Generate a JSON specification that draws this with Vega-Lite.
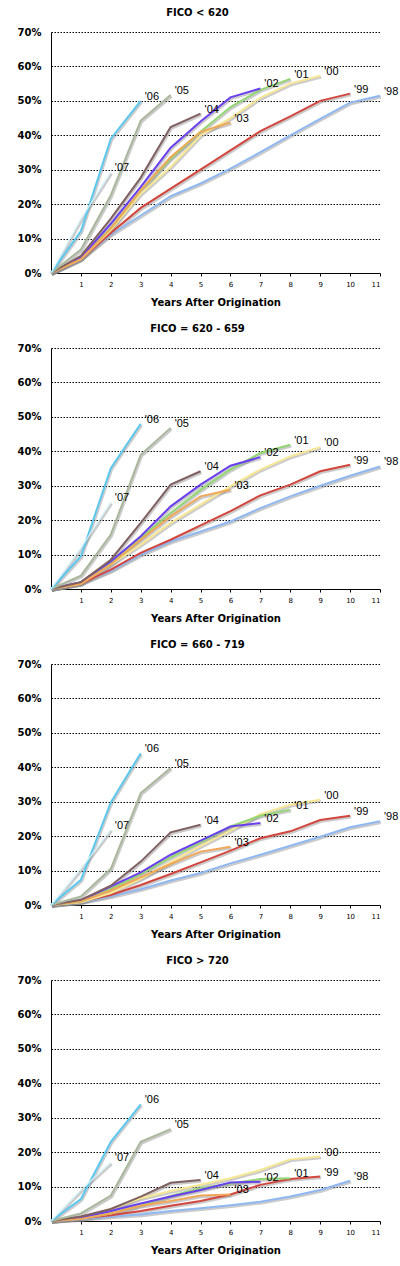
{
  "$schema": "https://vega.github.io/schema/vega-lite/v6.json",
  "padding": {"left": 17, "top": 8, "right": 0, "bottom": 0},
  "background": "white",
  "spacing": 17,
  "config": {
    "view": {"stroke": null},
    "title": {"font": "DejaVu Sans", "fontSize": 10, "fontWeight": "bold", "color": "#000000", "offset": 9, "anchor": "middle", "dx": -18},
    "axis": {"domainColor": "#000000", "domainWidth": 1, "labelColor": "#000000", "titleColor": "#000000"}
  },
  "datasets": {
    "rates": [
      {"fico": "FICO < 620", "vintage": "'98", "year": 0, "rate": 0},
      {"fico": "FICO < 620", "vintage": "'98", "year": 1, "rate": 4.2},
      {"fico": "FICO < 620", "vintage": "'98", "year": 2, "rate": 11.2},
      {"fico": "FICO < 620", "vintage": "'98", "year": 3, "rate": 16.7},
      {"fico": "FICO < 620", "vintage": "'98", "year": 4, "rate": 22.3},
      {"fico": "FICO < 620", "vintage": "'98", "year": 5, "rate": 26},
      {"fico": "FICO < 620", "vintage": "'98", "year": 6, "rate": 30.3},
      {"fico": "FICO < 620", "vintage": "'98", "year": 7, "rate": 35.1},
      {"fico": "FICO < 620", "vintage": "'98", "year": 8, "rate": 40},
      {"fico": "FICO < 620", "vintage": "'98", "year": 9, "rate": 44.8},
      {"fico": "FICO < 620", "vintage": "'98", "year": 10, "rate": 49.5},
      {"fico": "FICO < 620", "vintage": "'98", "year": 11, "rate": 51.5},
      {"fico": "FICO < 620", "vintage": "'99", "year": 0, "rate": 0},
      {"fico": "FICO < 620", "vintage": "'99", "year": 1, "rate": 4},
      {"fico": "FICO < 620", "vintage": "'99", "year": 2, "rate": 11.6},
      {"fico": "FICO < 620", "vintage": "'99", "year": 3, "rate": 18.9},
      {"fico": "FICO < 620", "vintage": "'99", "year": 4, "rate": 24.5},
      {"fico": "FICO < 620", "vintage": "'99", "year": 5, "rate": 30},
      {"fico": "FICO < 620", "vintage": "'99", "year": 6, "rate": 35.6},
      {"fico": "FICO < 620", "vintage": "'99", "year": 7, "rate": 41.2},
      {"fico": "FICO < 620", "vintage": "'99", "year": 8, "rate": 45.5},
      {"fico": "FICO < 620", "vintage": "'99", "year": 9, "rate": 50},
      {"fico": "FICO < 620", "vintage": "'99", "year": 10, "rate": 52.1},
      {"fico": "FICO < 620", "vintage": "'00", "year": 0, "rate": 0},
      {"fico": "FICO < 620", "vintage": "'00", "year": 1, "rate": 4},
      {"fico": "FICO < 620", "vintage": "'00", "year": 2, "rate": 12.5},
      {"fico": "FICO < 620", "vintage": "'00", "year": 3, "rate": 23},
      {"fico": "FICO < 620", "vintage": "'00", "year": 4, "rate": 30.8},
      {"fico": "FICO < 620", "vintage": "'00", "year": 5, "rate": 40},
      {"fico": "FICO < 620", "vintage": "'00", "year": 6, "rate": 45},
      {"fico": "FICO < 620", "vintage": "'00", "year": 7, "rate": 50.9},
      {"fico": "FICO < 620", "vintage": "'00", "year": 8, "rate": 55},
      {"fico": "FICO < 620", "vintage": "'00", "year": 9, "rate": 57.3},
      {"fico": "FICO < 620", "vintage": "'01", "year": 0, "rate": 0},
      {"fico": "FICO < 620", "vintage": "'01", "year": 1, "rate": 4.5},
      {"fico": "FICO < 620", "vintage": "'01", "year": 2, "rate": 13},
      {"fico": "FICO < 620", "vintage": "'01", "year": 3, "rate": 24},
      {"fico": "FICO < 620", "vintage": "'01", "year": 4, "rate": 33.2},
      {"fico": "FICO < 620", "vintage": "'01", "year": 5, "rate": 41},
      {"fico": "FICO < 620", "vintage": "'01", "year": 6, "rate": 48.2},
      {"fico": "FICO < 620", "vintage": "'01", "year": 7, "rate": 53.2},
      {"fico": "FICO < 620", "vintage": "'01", "year": 8, "rate": 56.4},
      {"fico": "FICO < 620", "vintage": "'02", "year": 0, "rate": 0},
      {"fico": "FICO < 620", "vintage": "'02", "year": 1, "rate": 4.5},
      {"fico": "FICO < 620", "vintage": "'02", "year": 2, "rate": 14.3},
      {"fico": "FICO < 620", "vintage": "'02", "year": 3, "rate": 25},
      {"fico": "FICO < 620", "vintage": "'02", "year": 4, "rate": 36.4},
      {"fico": "FICO < 620", "vintage": "'02", "year": 5, "rate": 44},
      {"fico": "FICO < 620", "vintage": "'02", "year": 6, "rate": 51},
      {"fico": "FICO < 620", "vintage": "'02", "year": 7, "rate": 53.6},
      {"fico": "FICO < 620", "vintage": "'03", "year": 0, "rate": 0},
      {"fico": "FICO < 620", "vintage": "'03", "year": 1, "rate": 4},
      {"fico": "FICO < 620", "vintage": "'03", "year": 2, "rate": 12.9},
      {"fico": "FICO < 620", "vintage": "'03", "year": 3, "rate": 24},
      {"fico": "FICO < 620", "vintage": "'03", "year": 4, "rate": 33.7},
      {"fico": "FICO < 620", "vintage": "'03", "year": 5, "rate": 41},
      {"fico": "FICO < 620", "vintage": "'03", "year": 6, "rate": 43.7},
      {"fico": "FICO < 620", "vintage": "'04", "year": 0, "rate": 0},
      {"fico": "FICO < 620", "vintage": "'04", "year": 1, "rate": 5},
      {"fico": "FICO < 620", "vintage": "'04", "year": 2, "rate": 15.8},
      {"fico": "FICO < 620", "vintage": "'04", "year": 3, "rate": 27.7},
      {"fico": "FICO < 620", "vintage": "'04", "year": 4, "rate": 42.4},
      {"fico": "FICO < 620", "vintage": "'04", "year": 5, "rate": 46.3},
      {"fico": "FICO < 620", "vintage": "'05", "year": 0, "rate": 0},
      {"fico": "FICO < 620", "vintage": "'05", "year": 1, "rate": 6.8},
      {"fico": "FICO < 620", "vintage": "'05", "year": 2, "rate": 22.6},
      {"fico": "FICO < 620", "vintage": "'05", "year": 3, "rate": 44.3},
      {"fico": "FICO < 620", "vintage": "'05", "year": 4, "rate": 51.7},
      {"fico": "FICO < 620", "vintage": "'06", "year": 0, "rate": 0},
      {"fico": "FICO < 620", "vintage": "'06", "year": 1, "rate": 12.2},
      {"fico": "FICO < 620", "vintage": "'06", "year": 2, "rate": 39},
      {"fico": "FICO < 620", "vintage": "'06", "year": 3, "rate": 50},
      {"fico": "FICO < 620", "vintage": "'07", "year": 0, "rate": 0},
      {"fico": "FICO < 620", "vintage": "'07", "year": 1, "rate": 15.7},
      {"fico": "FICO < 620", "vintage": "'07", "year": 2, "rate": 29.3},

      {"fico": "FICO = 620 - 659", "vintage": "'98", "year": 0, "rate": 0},
      {"fico": "FICO = 620 - 659", "vintage": "'98", "year": 1, "rate": 1.7},
      {"fico": "FICO = 620 - 659", "vintage": "'98", "year": 2, "rate": 5.3},
      {"fico": "FICO = 620 - 659", "vintage": "'98", "year": 3, "rate": 10},
      {"fico": "FICO = 620 - 659", "vintage": "'98", "year": 4, "rate": 13.8},
      {"fico": "FICO = 620 - 659", "vintage": "'98", "year": 5, "rate": 16.7},
      {"fico": "FICO = 620 - 659", "vintage": "'98", "year": 6, "rate": 19.6},
      {"fico": "FICO = 620 - 659", "vintage": "'98", "year": 7, "rate": 23.5},
      {"fico": "FICO = 620 - 659", "vintage": "'98", "year": 8, "rate": 26.9},
      {"fico": "FICO = 620 - 659", "vintage": "'98", "year": 9, "rate": 30},
      {"fico": "FICO = 620 - 659", "vintage": "'98", "year": 10, "rate": 32.9},
      {"fico": "FICO = 620 - 659", "vintage": "'98", "year": 11, "rate": 35.6},
      {"fico": "FICO = 620 - 659", "vintage": "'99", "year": 0, "rate": 0},
      {"fico": "FICO = 620 - 659", "vintage": "'99", "year": 1, "rate": 1.5},
      {"fico": "FICO = 620 - 659", "vintage": "'99", "year": 2, "rate": 5.6},
      {"fico": "FICO = 620 - 659", "vintage": "'99", "year": 3, "rate": 10.5},
      {"fico": "FICO = 620 - 659", "vintage": "'99", "year": 4, "rate": 14.3},
      {"fico": "FICO = 620 - 659", "vintage": "'99", "year": 5, "rate": 18.5},
      {"fico": "FICO = 620 - 659", "vintage": "'99", "year": 6, "rate": 22.6},
      {"fico": "FICO = 620 - 659", "vintage": "'99", "year": 7, "rate": 27.2},
      {"fico": "FICO = 620 - 659", "vintage": "'99", "year": 8, "rate": 30.3},
      {"fico": "FICO = 620 - 659", "vintage": "'99", "year": 9, "rate": 34.2},
      {"fico": "FICO = 620 - 659", "vintage": "'99", "year": 10, "rate": 36.1},
      {"fico": "FICO = 620 - 659", "vintage": "'00", "year": 0, "rate": 0},
      {"fico": "FICO = 620 - 659", "vintage": "'00", "year": 1, "rate": 1.5},
      {"fico": "FICO = 620 - 659", "vintage": "'00", "year": 2, "rate": 7.1},
      {"fico": "FICO = 620 - 659", "vintage": "'00", "year": 3, "rate": 12.9},
      {"fico": "FICO = 620 - 659", "vintage": "'00", "year": 4, "rate": 19.2},
      {"fico": "FICO = 620 - 659", "vintage": "'00", "year": 5, "rate": 24.5},
      {"fico": "FICO = 620 - 659", "vintage": "'00", "year": 6, "rate": 29.8},
      {"fico": "FICO = 620 - 659", "vintage": "'00", "year": 7, "rate": 34.7},
      {"fico": "FICO = 620 - 659", "vintage": "'00", "year": 8, "rate": 38.5},
      {"fico": "FICO = 620 - 659", "vintage": "'00", "year": 9, "rate": 41.2},
      {"fico": "FICO = 620 - 659", "vintage": "'01", "year": 0, "rate": 0},
      {"fico": "FICO = 620 - 659", "vintage": "'01", "year": 1, "rate": 2},
      {"fico": "FICO = 620 - 659", "vintage": "'01", "year": 2, "rate": 7.6},
      {"fico": "FICO = 620 - 659", "vintage": "'01", "year": 3, "rate": 14.8},
      {"fico": "FICO = 620 - 659", "vintage": "'01", "year": 4, "rate": 22.1},
      {"fico": "FICO = 620 - 659", "vintage": "'01", "year": 5, "rate": 28.8},
      {"fico": "FICO = 620 - 659", "vintage": "'01", "year": 6, "rate": 34.7},
      {"fico": "FICO = 620 - 659", "vintage": "'01", "year": 7, "rate": 39.5},
      {"fico": "FICO = 620 - 659", "vintage": "'01", "year": 8, "rate": 41.9},
      {"fico": "FICO = 620 - 659", "vintage": "'02", "year": 0, "rate": 0},
      {"fico": "FICO = 620 - 659", "vintage": "'02", "year": 1, "rate": 2},
      {"fico": "FICO = 620 - 659", "vintage": "'02", "year": 2, "rate": 8},
      {"fico": "FICO = 620 - 659", "vintage": "'02", "year": 3, "rate": 15.3},
      {"fico": "FICO = 620 - 659", "vintage": "'02", "year": 4, "rate": 24},
      {"fico": "FICO = 620 - 659", "vintage": "'02", "year": 5, "rate": 30.3},
      {"fico": "FICO = 620 - 659", "vintage": "'02", "year": 6, "rate": 35.8},
      {"fico": "FICO = 620 - 659", "vintage": "'02", "year": 7, "rate": 38.3},
      {"fico": "FICO = 620 - 659", "vintage": "'03", "year": 0, "rate": 0},
      {"fico": "FICO = 620 - 659", "vintage": "'03", "year": 1, "rate": 1.5},
      {"fico": "FICO = 620 - 659", "vintage": "'03", "year": 2, "rate": 7.1},
      {"fico": "FICO = 620 - 659", "vintage": "'03", "year": 3, "rate": 14.3},
      {"fico": "FICO = 620 - 659", "vintage": "'03", "year": 4, "rate": 21.1},
      {"fico": "FICO = 620 - 659", "vintage": "'03", "year": 5, "rate": 26.9},
      {"fico": "FICO = 620 - 659", "vintage": "'03", "year": 6, "rate": 28.8},
      {"fico": "FICO = 620 - 659", "vintage": "'04", "year": 0, "rate": 0},
      {"fico": "FICO = 620 - 659", "vintage": "'04", "year": 1, "rate": 2},
      {"fico": "FICO = 620 - 659", "vintage": "'04", "year": 2, "rate": 8.5},
      {"fico": "FICO = 620 - 659", "vintage": "'04", "year": 3, "rate": 19.2},
      {"fico": "FICO = 620 - 659", "vintage": "'04", "year": 4, "rate": 30.3},
      {"fico": "FICO = 620 - 659", "vintage": "'04", "year": 5, "rate": 34.2},
      {"fico": "FICO = 620 - 659", "vintage": "'05", "year": 0, "rate": 0},
      {"fico": "FICO = 620 - 659", "vintage": "'05", "year": 1, "rate": 3.9},
      {"fico": "FICO = 620 - 659", "vintage": "'05", "year": 2, "rate": 15.8},
      {"fico": "FICO = 620 - 659", "vintage": "'05", "year": 3, "rate": 39},
      {"fico": "FICO = 620 - 659", "vintage": "'05", "year": 4, "rate": 46.8},
      {"fico": "FICO = 620 - 659", "vintage": "'06", "year": 0, "rate": 0},
      {"fico": "FICO = 620 - 659", "vintage": "'06", "year": 1, "rate": 9.5},
      {"fico": "FICO = 620 - 659", "vintage": "'06", "year": 2, "rate": 35.1},
      {"fico": "FICO = 620 - 659", "vintage": "'06", "year": 3, "rate": 48},
      {"fico": "FICO = 620 - 659", "vintage": "'07", "year": 0, "rate": 0},
      {"fico": "FICO = 620 - 659", "vintage": "'07", "year": 1, "rate": 11.9},
      {"fico": "FICO = 620 - 659", "vintage": "'07", "year": 2, "rate": 25.2},

      {"fico": "FICO = 660 - 719", "vintage": "'98", "year": 0, "rate": 0},
      {"fico": "FICO = 660 - 719", "vintage": "'98", "year": 1, "rate": 0.8},
      {"fico": "FICO = 660 - 719", "vintage": "'98", "year": 2, "rate": 2.5},
      {"fico": "FICO = 660 - 719", "vintage": "'98", "year": 3, "rate": 4.6},
      {"fico": "FICO = 660 - 719", "vintage": "'98", "year": 4, "rate": 7.1},
      {"fico": "FICO = 660 - 719", "vintage": "'98", "year": 5, "rate": 9.3},
      {"fico": "FICO = 660 - 719", "vintage": "'98", "year": 6, "rate": 12.1},
      {"fico": "FICO = 660 - 719", "vintage": "'98", "year": 7, "rate": 14.6},
      {"fico": "FICO = 660 - 719", "vintage": "'98", "year": 8, "rate": 17.2},
      {"fico": "FICO = 660 - 719", "vintage": "'98", "year": 9, "rate": 19.8},
      {"fico": "FICO = 660 - 719", "vintage": "'98", "year": 10, "rate": 22.6},
      {"fico": "FICO = 660 - 719", "vintage": "'98", "year": 11, "rate": 24.3},
      {"fico": "FICO = 660 - 719", "vintage": "'99", "year": 0, "rate": 0},
      {"fico": "FICO = 660 - 719", "vintage": "'99", "year": 1, "rate": 1},
      {"fico": "FICO = 660 - 719", "vintage": "'99", "year": 2, "rate": 2.9},
      {"fico": "FICO = 660 - 719", "vintage": "'99", "year": 3, "rate": 5.8},
      {"fico": "FICO = 660 - 719", "vintage": "'99", "year": 4, "rate": 9},
      {"fico": "FICO = 660 - 719", "vintage": "'99", "year": 5, "rate": 12.4},
      {"fico": "FICO = 660 - 719", "vintage": "'99", "year": 6, "rate": 15.8},
      {"fico": "FICO = 660 - 719", "vintage": "'99", "year": 7, "rate": 19.4},
      {"fico": "FICO = 660 - 719", "vintage": "'99", "year": 8, "rate": 21.4},
      {"fico": "FICO = 660 - 719", "vintage": "'99", "year": 9, "rate": 24.7},
      {"fico": "FICO = 660 - 719", "vintage": "'99", "year": 10, "rate": 25.9},
      {"fico": "FICO = 660 - 719", "vintage": "'00", "year": 0, "rate": 0},
      {"fico": "FICO = 660 - 719", "vintage": "'00", "year": 1, "rate": 0.8},
      {"fico": "FICO = 660 - 719", "vintage": "'00", "year": 2, "rate": 3.5},
      {"fico": "FICO = 660 - 719", "vintage": "'00", "year": 3, "rate": 7.6},
      {"fico": "FICO = 660 - 719", "vintage": "'00", "year": 4, "rate": 12.4},
      {"fico": "FICO = 660 - 719", "vintage": "'00", "year": 5, "rate": 17.2},
      {"fico": "FICO = 660 - 719", "vintage": "'00", "year": 6, "rate": 21.6},
      {"fico": "FICO = 660 - 719", "vintage": "'00", "year": 7, "rate": 26.4},
      {"fico": "FICO = 660 - 719", "vintage": "'00", "year": 8, "rate": 29.1},
      {"fico": "FICO = 660 - 719", "vintage": "'00", "year": 9, "rate": 30.6},
      {"fico": "FICO = 660 - 719", "vintage": "'01", "year": 0, "rate": 0},
      {"fico": "FICO = 660 - 719", "vintage": "'01", "year": 1, "rate": 1},
      {"fico": "FICO = 660 - 719", "vintage": "'01", "year": 2, "rate": 4.6},
      {"fico": "FICO = 660 - 719", "vintage": "'01", "year": 3, "rate": 9},
      {"fico": "FICO = 660 - 719", "vintage": "'01", "year": 4, "rate": 13.8},
      {"fico": "FICO = 660 - 719", "vintage": "'01", "year": 5, "rate": 18.2},
      {"fico": "FICO = 660 - 719", "vintage": "'01", "year": 6, "rate": 22.8},
      {"fico": "FICO = 660 - 719", "vintage": "'01", "year": 7, "rate": 25.9},
      {"fico": "FICO = 660 - 719", "vintage": "'01", "year": 8, "rate": 27.7},
      {"fico": "FICO = 660 - 719", "vintage": "'02", "year": 0, "rate": 0},
      {"fico": "FICO = 660 - 719", "vintage": "'02", "year": 1, "rate": 1.3},
      {"fico": "FICO = 660 - 719", "vintage": "'02", "year": 2, "rate": 5.4},
      {"fico": "FICO = 660 - 719", "vintage": "'02", "year": 3, "rate": 9.5},
      {"fico": "FICO = 660 - 719", "vintage": "'02", "year": 4, "rate": 14.6},
      {"fico": "FICO = 660 - 719", "vintage": "'02", "year": 5, "rate": 18.7},
      {"fico": "FICO = 660 - 719", "vintage": "'02", "year": 6, "rate": 22.8},
      {"fico": "FICO = 660 - 719", "vintage": "'02", "year": 7, "rate": 23.8},
      {"fico": "FICO = 660 - 719", "vintage": "'03", "year": 0, "rate": 0},
      {"fico": "FICO = 660 - 719", "vintage": "'03", "year": 1, "rate": 1},
      {"fico": "FICO = 660 - 719", "vintage": "'03", "year": 2, "rate": 4.2},
      {"fico": "FICO = 660 - 719", "vintage": "'03", "year": 3, "rate": 8},
      {"fico": "FICO = 660 - 719", "vintage": "'03", "year": 4, "rate": 11.9},
      {"fico": "FICO = 660 - 719", "vintage": "'03", "year": 5, "rate": 15.5},
      {"fico": "FICO = 660 - 719", "vintage": "'03", "year": 6, "rate": 16.9},
      {"fico": "FICO = 660 - 719", "vintage": "'04", "year": 0, "rate": 0},
      {"fico": "FICO = 660 - 719", "vintage": "'04", "year": 1, "rate": 1.5},
      {"fico": "FICO = 660 - 719", "vintage": "'04", "year": 2, "rate": 5.6},
      {"fico": "FICO = 660 - 719", "vintage": "'04", "year": 3, "rate": 12.6},
      {"fico": "FICO = 660 - 719", "vintage": "'04", "year": 4, "rate": 21.1},
      {"fico": "FICO = 660 - 719", "vintage": "'04", "year": 5, "rate": 23.3},
      {"fico": "FICO = 660 - 719", "vintage": "'05", "year": 0, "rate": 0},
      {"fico": "FICO = 660 - 719", "vintage": "'05", "year": 1, "rate": 2.5},
      {"fico": "FICO = 660 - 719", "vintage": "'05", "year": 2, "rate": 10.5},
      {"fico": "FICO = 660 - 719", "vintage": "'05", "year": 3, "rate": 32.5},
      {"fico": "FICO = 660 - 719", "vintage": "'05", "year": 4, "rate": 39.8},
      {"fico": "FICO = 660 - 719", "vintage": "'06", "year": 0, "rate": 0},
      {"fico": "FICO = 660 - 719", "vintage": "'06", "year": 1, "rate": 7.3},
      {"fico": "FICO = 660 - 719", "vintage": "'06", "year": 2, "rate": 29.8},
      {"fico": "FICO = 660 - 719", "vintage": "'06", "year": 3, "rate": 44.1},
      {"fico": "FICO = 660 - 719", "vintage": "'07", "year": 0, "rate": 0},
      {"fico": "FICO = 660 - 719", "vintage": "'07", "year": 1, "rate": 10.5},
      {"fico": "FICO = 660 - 719", "vintage": "'07", "year": 2, "rate": 21.9},

      {"fico": "FICO > 720", "vintage": "'98", "year": 0, "rate": 0},
      {"fico": "FICO > 720", "vintage": "'98", "year": 1, "rate": 0.6},
      {"fico": "FICO > 720", "vintage": "'98", "year": 2, "rate": 1.3},
      {"fico": "FICO > 720", "vintage": "'98", "year": 3, "rate": 1.9},
      {"fico": "FICO > 720", "vintage": "'98", "year": 4, "rate": 2.9},
      {"fico": "FICO > 720", "vintage": "'98", "year": 5, "rate": 3.7},
      {"fico": "FICO > 720", "vintage": "'98", "year": 6, "rate": 4.6},
      {"fico": "FICO > 720", "vintage": "'98", "year": 7, "rate": 5.6},
      {"fico": "FICO > 720", "vintage": "'98", "year": 8, "rate": 7.1},
      {"fico": "FICO > 720", "vintage": "'98", "year": 9, "rate": 9},
      {"fico": "FICO > 720", "vintage": "'98", "year": 10, "rate": 11.7},
      {"fico": "FICO > 720", "vintage": "'99", "year": 0, "rate": 0},
      {"fico": "FICO > 720", "vintage": "'99", "year": 1, "rate": 0.8},
      {"fico": "FICO > 720", "vintage": "'99", "year": 2, "rate": 1.7},
      {"fico": "FICO > 720", "vintage": "'99", "year": 3, "rate": 2.9},
      {"fico": "FICO > 720", "vintage": "'99", "year": 4, "rate": 4.4},
      {"fico": "FICO > 720", "vintage": "'99", "year": 5, "rate": 5.8},
      {"fico": "FICO > 720", "vintage": "'99", "year": 6, "rate": 7.7},
      {"fico": "FICO > 720", "vintage": "'99", "year": 7, "rate": 10.5},
      {"fico": "FICO > 720", "vintage": "'99", "year": 8, "rate": 12.2},
      {"fico": "FICO > 720", "vintage": "'99", "year": 9, "rate": 12.9},
      {"fico": "FICO > 720", "vintage": "'00", "year": 0, "rate": 0},
      {"fico": "FICO > 720", "vintage": "'00", "year": 1, "rate": 1},
      {"fico": "FICO > 720", "vintage": "'00", "year": 2, "rate": 3.5},
      {"fico": "FICO > 720", "vintage": "'00", "year": 3, "rate": 6.6},
      {"fico": "FICO > 720", "vintage": "'00", "year": 4, "rate": 8.7},
      {"fico": "FICO > 720", "vintage": "'00", "year": 5, "rate": 10.5},
      {"fico": "FICO > 720", "vintage": "'00", "year": 6, "rate": 12.4},
      {"fico": "FICO > 720", "vintage": "'00", "year": 7, "rate": 14.8},
      {"fico": "FICO > 720", "vintage": "'00", "year": 8, "rate": 17.9},
      {"fico": "FICO > 720", "vintage": "'00", "year": 9, "rate": 18.7},
      {"fico": "FICO > 720", "vintage": "'01", "year": 0, "rate": 0},
      {"fico": "FICO > 720", "vintage": "'01", "year": 1, "rate": 0.8},
      {"fico": "FICO > 720", "vintage": "'01", "year": 2, "rate": 2.2},
      {"fico": "FICO > 720", "vintage": "'01", "year": 3, "rate": 4.6},
      {"fico": "FICO > 720", "vintage": "'01", "year": 4, "rate": 7.3},
      {"fico": "FICO > 720", "vintage": "'01", "year": 5, "rate": 9.5},
      {"fico": "FICO > 720", "vintage": "'01", "year": 6, "rate": 10.9},
      {"fico": "FICO > 720", "vintage": "'01", "year": 7, "rate": 12.2},
      {"fico": "FICO > 720", "vintage": "'01", "year": 8, "rate": 12.4},
      {"fico": "FICO > 720", "vintage": "'02", "year": 0, "rate": 0},
      {"fico": "FICO > 720", "vintage": "'02", "year": 1, "rate": 1},
      {"fico": "FICO > 720", "vintage": "'02", "year": 2, "rate": 2.9},
      {"fico": "FICO > 720", "vintage": "'02", "year": 3, "rate": 5.1},
      {"fico": "FICO > 720", "vintage": "'02", "year": 4, "rate": 7.1},
      {"fico": "FICO > 720", "vintage": "'02", "year": 5, "rate": 9},
      {"fico": "FICO > 720", "vintage": "'02", "year": 6, "rate": 11.2},
      {"fico": "FICO > 720", "vintage": "'02", "year": 7, "rate": 11.4},
      {"fico": "FICO > 720", "vintage": "'03", "year": 0, "rate": 0},
      {"fico": "FICO > 720", "vintage": "'03", "year": 1, "rate": 0.6},
      {"fico": "FICO > 720", "vintage": "'03", "year": 2, "rate": 2.2},
      {"fico": "FICO > 720", "vintage": "'03", "year": 3, "rate": 4.4},
      {"fico": "FICO > 720", "vintage": "'03", "year": 4, "rate": 5.8},
      {"fico": "FICO > 720", "vintage": "'03", "year": 5, "rate": 7.4},
      {"fico": "FICO > 720", "vintage": "'03", "year": 6, "rate": 7.7},
      {"fico": "FICO > 720", "vintage": "'04", "year": 0, "rate": 0},
      {"fico": "FICO > 720", "vintage": "'04", "year": 1, "rate": 1.3},
      {"fico": "FICO > 720", "vintage": "'04", "year": 2, "rate": 3.5},
      {"fico": "FICO > 720", "vintage": "'04", "year": 3, "rate": 7.1},
      {"fico": "FICO > 720", "vintage": "'04", "year": 4, "rate": 11.1},
      {"fico": "FICO > 720", "vintage": "'04", "year": 5, "rate": 11.9},
      {"fico": "FICO > 720", "vintage": "'05", "year": 0, "rate": 0},
      {"fico": "FICO > 720", "vintage": "'05", "year": 1, "rate": 2.2},
      {"fico": "FICO > 720", "vintage": "'05", "year": 2, "rate": 7.4},
      {"fico": "FICO > 720", "vintage": "'05", "year": 3, "rate": 23},
      {"fico": "FICO > 720", "vintage": "'05", "year": 4, "rate": 26.7},
      {"fico": "FICO > 720", "vintage": "'06", "year": 0, "rate": 0},
      {"fico": "FICO > 720", "vintage": "'06", "year": 1, "rate": 6.4},
      {"fico": "FICO > 720", "vintage": "'06", "year": 2, "rate": 23},
      {"fico": "FICO > 720", "vintage": "'06", "year": 3, "rate": 33.9},
      {"fico": "FICO > 720", "vintage": "'07", "year": 0, "rate": 0},
      {"fico": "FICO > 720", "vintage": "'07", "year": 1, "rate": 9},
      {"fico": "FICO > 720", "vintage": "'07", "year": 2, "rate": 17}
    ]
  },
  "vconcat": [
    {
      "title": "FICO < 620",
      "width": 329, "height": 241,
      "data": {"name": "rates"},
      "transform": [
        {"filter": "datum.fico === 'FICO < 620'"},
        {"joinaggregate": [{"op": "max", "field": "year", "as": "lastYear"}], "groupby": ["vintage"]}
      ],
      "encoding": {
        "x": {"field": "year", "type": "quantitative", "scale": {"domain": [0, 11], "nice": false},
          "axis": {"values": [1, 2, 3, 4, 5, 6, 7, 8, 9, 10, 11], "grid": false, "tickSize": 3, "tickColor": "#000000", "labelFont": "DejaVu Sans", "labelFontSize": 7, "labelPadding": 4, "title": "Years After Origination", "titleFont": "DejaVu Sans", "titleFontSize": 10, "titleFontWeight": "bold", "titlePadding": 10}},
        "y": {"field": "rate", "type": "quantitative", "scale": {"domain": [0, 70], "nice": false},
          "axis": {"values": [0, 10, 20, 30, 40, 50, 60, 70], "labelExpr": "datum.value + '%'", "ticks": false, "labelPadding": 10, "labelFont": "DejaVu Sans", "labelFontSize": 10, "labelFontWeight": "bold", "title": null, "grid": true, "gridColor": "#000000", "gridDash": [1.5, 1.5], "gridWidth": 1}}
      },
      "layer": [
        {"mark": {"type": "line", "stroke": "#8c8c8c", "strokeOpacity": 0.45, "strokeWidth": 2.5, "xOffset": 1, "yOffset": 1.5}, "encoding": {"detail": {"field": "vintage"}}},
        {"transform": [{"filter": "datum.vintage !== \"'07\""}], "mark": {"type": "line", "strokeWidth": 2}, "encoding": {"color": {"field": "vintage", "type": "nominal", "legend": null, "scale": {"domain": ["'98", "'99", "'00", "'01", "'02", "'03", "'04", "'05", "'06", "'07"], "range": ["#8fb8f2", "#d2463e", "#f7e794", "#92d672", "#6a40ee", "#f0a858", "#806060", "#a9b89c", "#5cc8f0", "#d2f2fa"]}}}},
        {"transform": [{"filter": "datum.vintage === \"'07\""}], "mark": {"type": "line", "strokeWidth": 1.2, "stroke": "#d2f2fa"}, "encoding": {}},
        {"transform": [{"filter": "datum.year === datum.lastYear"}], "mark": {"type": "text", "align": "left", "baseline": "middle", "dx": 4, "dy": -4, "font": "Liberation Sans", "fontSize": 11, "fill": "#000000"}, "encoding": {"text": {"field": "vintage"}}}
      ]
    },
    {
      "title": "FICO = 620 - 659",
      "width": 329, "height": 241,
      "data": {"name": "rates"},
      "transform": [
        {"filter": "datum.fico === 'FICO = 620 - 659'"},
        {"joinaggregate": [{"op": "max", "field": "year", "as": "lastYear"}], "groupby": ["vintage"]}
      ],
      "encoding": {
        "x": {"field": "year", "type": "quantitative", "scale": {"domain": [0, 11], "nice": false},
          "axis": {"values": [1, 2, 3, 4, 5, 6, 7, 8, 9, 10, 11], "grid": false, "tickSize": 3, "tickColor": "#000000", "labelFont": "DejaVu Sans", "labelFontSize": 7, "labelPadding": 4, "title": "Years After Origination", "titleFont": "DejaVu Sans", "titleFontSize": 10, "titleFontWeight": "bold", "titlePadding": 10}},
        "y": {"field": "rate", "type": "quantitative", "scale": {"domain": [0, 70], "nice": false},
          "axis": {"values": [0, 10, 20, 30, 40, 50, 60, 70], "labelExpr": "datum.value + '%'", "ticks": false, "labelPadding": 10, "labelFont": "DejaVu Sans", "labelFontSize": 10, "labelFontWeight": "bold", "title": null, "grid": true, "gridColor": "#000000", "gridDash": [1.5, 1.5], "gridWidth": 1}}
      },
      "layer": [
        {"mark": {"type": "line", "stroke": "#8c8c8c", "strokeOpacity": 0.45, "strokeWidth": 2.5, "xOffset": 1, "yOffset": 1.5}, "encoding": {"detail": {"field": "vintage"}}},
        {"transform": [{"filter": "datum.vintage !== \"'07\""}], "mark": {"type": "line", "strokeWidth": 2}, "encoding": {"color": {"field": "vintage", "type": "nominal", "legend": null, "scale": {"domain": ["'98", "'99", "'00", "'01", "'02", "'03", "'04", "'05", "'06", "'07"], "range": ["#8fb8f2", "#d2463e", "#f7e794", "#92d672", "#6a40ee", "#f0a858", "#806060", "#a9b89c", "#5cc8f0", "#d2f2fa"]}}}},
        {"transform": [{"filter": "datum.vintage === \"'07\""}], "mark": {"type": "line", "strokeWidth": 1.2, "stroke": "#d2f2fa"}, "encoding": {}},
        {"transform": [{"filter": "datum.year === datum.lastYear"}], "mark": {"type": "text", "align": "left", "baseline": "middle", "dx": 4, "dy": -4, "font": "Liberation Sans", "fontSize": 11, "fill": "#000000"}, "encoding": {"text": {"field": "vintage"}}}
      ]
    },
    {
      "title": "FICO = 660 - 719",
      "width": 329, "height": 241,
      "data": {"name": "rates"},
      "transform": [
        {"filter": "datum.fico === 'FICO = 660 - 719'"},
        {"joinaggregate": [{"op": "max", "field": "year", "as": "lastYear"}], "groupby": ["vintage"]}
      ],
      "encoding": {
        "x": {"field": "year", "type": "quantitative", "scale": {"domain": [0, 11], "nice": false},
          "axis": {"values": [1, 2, 3, 4, 5, 6, 7, 8, 9, 10, 11], "grid": false, "tickSize": 3, "tickColor": "#000000", "labelFont": "DejaVu Sans", "labelFontSize": 7, "labelPadding": 4, "title": "Years After Origination", "titleFont": "DejaVu Sans", "titleFontSize": 10, "titleFontWeight": "bold", "titlePadding": 10}},
        "y": {"field": "rate", "type": "quantitative", "scale": {"domain": [0, 70], "nice": false},
          "axis": {"values": [0, 10, 20, 30, 40, 50, 60, 70], "labelExpr": "datum.value + '%'", "ticks": false, "labelPadding": 10, "labelFont": "DejaVu Sans", "labelFontSize": 10, "labelFontWeight": "bold", "title": null, "grid": true, "gridColor": "#000000", "gridDash": [1.5, 1.5], "gridWidth": 1}}
      },
      "layer": [
        {"mark": {"type": "line", "stroke": "#8c8c8c", "strokeOpacity": 0.45, "strokeWidth": 2.5, "xOffset": 1, "yOffset": 1.5}, "encoding": {"detail": {"field": "vintage"}}},
        {"transform": [{"filter": "datum.vintage !== \"'07\""}], "mark": {"type": "line", "strokeWidth": 2}, "encoding": {"color": {"field": "vintage", "type": "nominal", "legend": null, "scale": {"domain": ["'98", "'99", "'00", "'01", "'02", "'03", "'04", "'05", "'06", "'07"], "range": ["#8fb8f2", "#d2463e", "#f7e794", "#92d672", "#6a40ee", "#f0a858", "#806060", "#a9b89c", "#5cc8f0", "#d2f2fa"]}}}},
        {"transform": [{"filter": "datum.vintage === \"'07\""}], "mark": {"type": "line", "strokeWidth": 1.2, "stroke": "#d2f2fa"}, "encoding": {}},
        {"transform": [{"filter": "datum.year === datum.lastYear"}], "mark": {"type": "text", "align": "left", "baseline": "middle", "dx": 4, "dy": -4, "font": "Liberation Sans", "fontSize": 11, "fill": "#000000"}, "encoding": {"text": {"field": "vintage"}}}
      ]
    },
    {
      "title": "FICO > 720",
      "width": 329, "height": 241,
      "data": {"name": "rates"},
      "transform": [
        {"filter": "datum.fico === 'FICO > 720'"},
        {"joinaggregate": [{"op": "max", "field": "year", "as": "lastYear"}], "groupby": ["vintage"]}
      ],
      "encoding": {
        "x": {"field": "year", "type": "quantitative", "scale": {"domain": [0, 11], "nice": false},
          "axis": {"values": [1, 2, 3, 4, 5, 6, 7, 8, 9, 10, 11], "grid": false, "tickSize": 3, "tickColor": "#000000", "labelFont": "DejaVu Sans", "labelFontSize": 7, "labelPadding": 4, "title": "Years After Origination", "titleFont": "DejaVu Sans", "titleFontSize": 10, "titleFontWeight": "bold", "titlePadding": 10}},
        "y": {"field": "rate", "type": "quantitative", "scale": {"domain": [0, 70], "nice": false},
          "axis": {"values": [0, 10, 20, 30, 40, 50, 60, 70], "labelExpr": "datum.value + '%'", "ticks": false, "labelPadding": 10, "labelFont": "DejaVu Sans", "labelFontSize": 10, "labelFontWeight": "bold", "title": null, "grid": true, "gridColor": "#000000", "gridDash": [1.5, 1.5], "gridWidth": 1}}
      },
      "layer": [
        {"mark": {"type": "line", "stroke": "#8c8c8c", "strokeOpacity": 0.45, "strokeWidth": 2.5, "xOffset": 1, "yOffset": 1.5}, "encoding": {"detail": {"field": "vintage"}}},
        {"transform": [{"filter": "datum.vintage !== \"'07\""}], "mark": {"type": "line", "strokeWidth": 2}, "encoding": {"color": {"field": "vintage", "type": "nominal", "legend": null, "scale": {"domain": ["'98", "'99", "'00", "'01", "'02", "'03", "'04", "'05", "'06", "'07"], "range": ["#8fb8f2", "#d2463e", "#f7e794", "#92d672", "#6a40ee", "#f0a858", "#806060", "#a9b89c", "#5cc8f0", "#d2f2fa"]}}}},
        {"transform": [{"filter": "datum.vintage === \"'07\""}], "mark": {"type": "line", "strokeWidth": 1.2, "stroke": "#d2f2fa"}, "encoding": {}},
        {"transform": [{"filter": "datum.year === datum.lastYear"}], "mark": {"type": "text", "align": "left", "baseline": "middle", "dx": 4, "dy": -4, "font": "Liberation Sans", "fontSize": 11, "fill": "#000000"}, "encoding": {"text": {"field": "vintage"}}}
      ]
    }
  ]
}
